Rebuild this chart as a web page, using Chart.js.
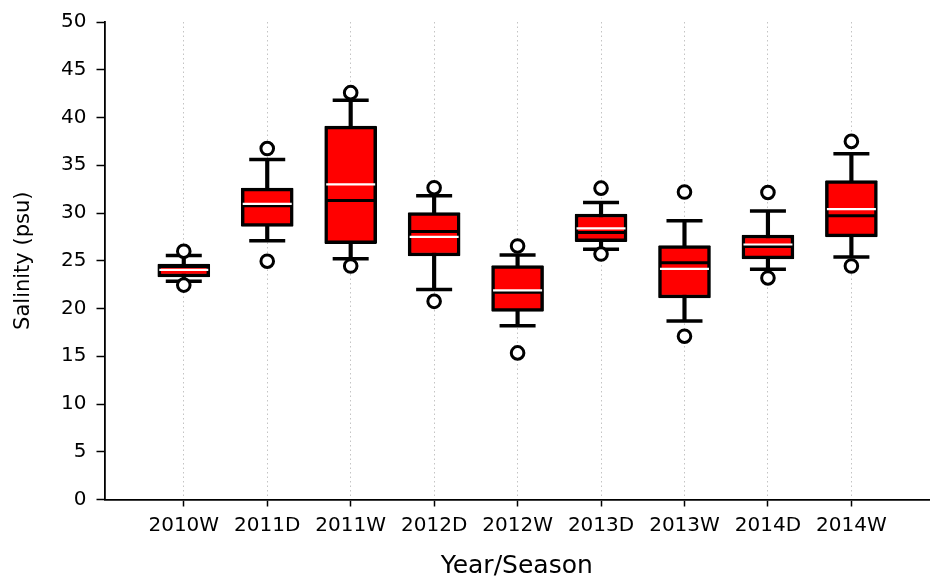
<!DOCTYPE html>
<html>
<head>
<meta charset="utf-8">
<script src="https://cdn.jsdelivr.net/npm/chart.js@4.4.0/dist/chart.umd.min.js"></script>
<style>
  html, body { margin: 0; padding: 0; background: #ffffff; }
  #wrap { width: 931px; height: 581px; position: relative; }
</style>
</head>
<body>
<div id="wrap"><canvas id="c" width="931" height="581"></canvas></div>
<script>
const categories = ['2010W','2011D','2011W','2012D','2012W','2013D','2013W','2014D','2014W'];
const whiskerLow  = [22.85, 27.1, 25.2, 22.0, 18.2, 26.2, 18.7, 24.1, 25.4];
const q1          = [23.3, 28.6, 26.8, 25.5, 19.7, 27.0, 21.1, 25.2, 27.5];
const median      = [24.4, 30.75, 31.3, 28.05, 21.7, 27.95, 24.8, 26.5, 29.7];
const mean        = [24.05, 30.95, 33.0, 27.5, 21.9, 28.4, 24.15, 26.7, 30.4];
const q3          = [24.65, 32.6, 39.1, 30.05, 24.5, 29.9, 26.6, 27.7, 33.4];
const whiskerHigh = [25.55, 35.6, 41.8, 31.8, 25.6, 31.1, 29.2, 30.2, 36.2];
const outlierLow  = [22.45, 24.95, 24.45, 20.75, 15.35, 25.7, 17.1, 23.2, 24.45];
const outlierHigh = [26.0, 36.75, 42.6, 32.65, 26.55, 32.6, 32.2, 32.15, 37.5];
const yTicks = [0, 5, 10, 15, 20, 25, 30, 35, 40, 45, 50];

const pos = categories.map((c, i) => i + 1);
const FONT = 'DejaVu Sans';

const boxData = pos.map((x, i) => ({x, y: [q1[i], q3[i]]}));
const whiskerData = pos.map((x, i) => ({x, y: [whiskerLow[i], whiskerHigh[i]]}));
const capData = pos.flatMap((x, i) => [{x, y: whiskerLow[i]}, {x, y: whiskerHigh[i]}]);
const medianData = pos.map((x, i) => ({x, y: median[i]}));
const meanData = pos.map((x, i) => ({x, y: mean[i]}));
const outlierData = pos.flatMap((x, i) => [{x, y: outlierLow[i]}, {x, y: outlierHigh[i]}]);

new Chart(document.getElementById('c'), {
  type: 'bar',
  data: {
    datasets: [
      { type: 'bar', label: 'whisker', data: whiskerData, backgroundColor: '#000000', borderWidth: 0,
        barThickness: 3.5, grouped: false, order: 6 },
      { type: 'bar', label: 'box', data: boxData, backgroundColor: '#ff0000', borderColor: '#000000',
        borderWidth: 3.5, borderSkipped: false, borderRadius: 1, barThickness: 52, grouped: false, order: 5 },
      { type: 'line', label: 'caps', data: capData, showLine: false, pointStyle: 'line',
        pointRadius: 18, pointBorderWidth: 3.5, pointBorderColor: '#000000', order: 4 },
      { type: 'line', label: 'outliers', data: outlierData, showLine: false, pointStyle: 'circle',
        pointRadius: 6.3, pointBorderWidth: 3, pointBorderColor: '#000000', pointBackgroundColor: '#ffffff', order: 3 },
      { type: 'line', label: 'median', data: medianData, showLine: false, pointStyle: 'line',
        pointRadius: 25.5, pointBorderWidth: 3, pointBorderColor: '#000000', order: 2 },
      { type: 'line', label: 'mean', data: meanData, showLine: false, pointStyle: 'line',
        pointRadius: 24.5, pointBorderWidth: 2.2, pointBorderColor: '#ffffff', order: 1 }
    ]
  },
  options: {
    responsive: false,
    animation: false,
    events: [],
    layout: { autoPadding: false, padding: { top: 22, right: 2, left: 0, bottom: 0 } },
    plugins: { legend: { display: false }, tooltip: { enabled: false } },
    scales: {
      x: {
        type: 'linear',
        offset: false,
        min: 0.05,
        max: 9.93,
        afterBuildTicks: (s) => { s.ticks = pos.map(v => ({value: v})); },
        afterFit: (s) => { s.height = 81.5; },
        grid: { display: true, offset: false, drawOnChartArea: true, drawTicks: true, color: '#c4c4c4', lineWidth: 1,
                tickColor: '#000000', tickLength: 7, tickWidth: 1.5 },
        border: { display: true, color: '#000000', width: 1.8, dash: [1.5, 3] },
        ticks: {
          color: '#000000', font: { family: FONT, size: 20 }, padding: 7, maxRotation: 0, autoSkip: false,
          callback: (v) => categories[v - 1] || ''
        },
        title: { display: true, text: 'Year/Season', color: '#000000', font: { family: FONT, size: 25 },
                 padding: { top: 0, bottom: 0 } }
      },
      y: {
        type: 'linear',
        min: 0,
        max: 50,
        afterBuildTicks: (s) => { s.ticks = yTicks.map(v => ({value: v})); },
        afterFit: (s) => { s.width = 104.5; },
        grid: { display: true, drawOnChartArea: false, drawTicks: true,
                tickColor: '#000000', tickLength: 8, tickWidth: 1.5 },
        border: { display: true, color: '#000000', width: 1.8 },
        ticks: { color: '#000000', font: { family: FONT, size: 20 }, padding: 10 },
        title: { display: true, text: 'Salinity (psu)', color: '#000000', font: { family: FONT, size: 21 },
                 padding: { top: 11, bottom: 0 } }
      }
    }
  }
});
</script>
</body>
</html>
